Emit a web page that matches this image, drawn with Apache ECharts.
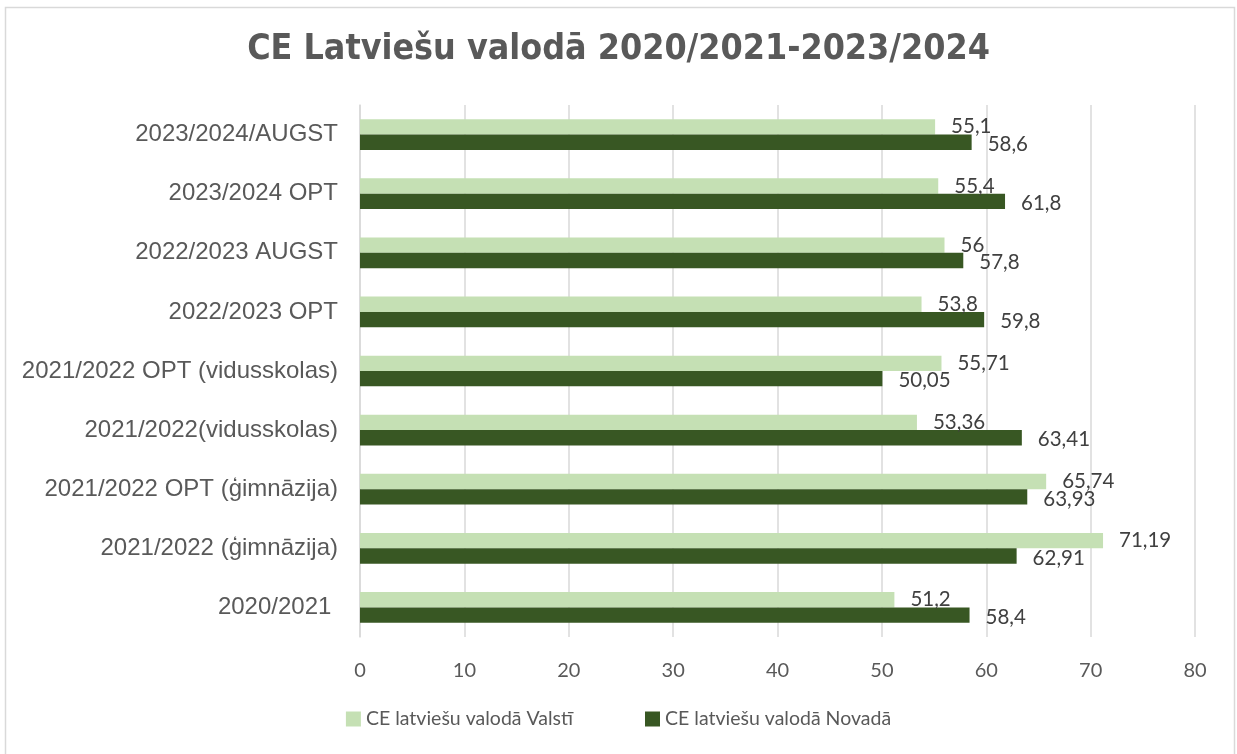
<!DOCTYPE html>
<html>
<head>
<meta charset="utf-8">
<script src="https://cdn.jsdelivr.net/npm/echarts@6/dist/echarts.min.js"></script>
<style>
  html, body { margin: 0; padding: 0; background: #fff; }
  #chart { width: 1237px; height: 754px; }
</style>
</head>
<body>
<div id="chart"></div>
<script>
// kategorijas no augšas uz leju
const categories = [
  '2023/2024/AUGST',
  '2023/2024 OPT',
  '2022/2023 AUGST',
  '2022/2023 OPT',
  '2021/2022 OPT (vidusskolas)',
  '2021/2022(vidusskolas)',
  '2021/2022 OPT (ģimnāzija)',
  '2021/2022 (ģimnāzija)',
  '2020/2021 '
]
const valstiValues = [55.1, 55.4, 56, 53.8, 55.71, 53.36, 65.74, 71.19, 51.2]
const novadaValues = [58.6, 61.8, 57.8, 59.8, 50.05, 63.41, 63.93, 62.91, 58.4]
const seriesNames = ['CE latviešu valodā Valstī', 'CE latviešu valodā Novadā']
const xTicks = [0, 10, 20, 30, 40, 50, 60, 70, 80]

const colors = ['#C5E0B4', '#385723']
const textColor = '#595959'

let chart = echarts.init(document.getElementById('chart'))

const fmt = function (p) {
  return String(p.value).replace('.', ',')
}

const option = {
  animation: false,
  title: {
    text: 'CE Latviešu valodā 2020/2021-2023/2024',
    left: 'center',
    top: 27,
    textStyle: {
      fontFamily: "'DejaVu Sans Condensed', 'DejaVu Sans', sans-serif",
      fontWeight: 'bold',
      fontSize: 35.5,
      color: textColor
    }
  },
  graphic: [
    {
      type: 'rect',
      shape: { x: 5.5, y: 7.5, width: 1229, height: 760 },
      style: { fill: null, stroke: '#d9d9d9', lineWidth: 1.5 },
      silent: true
    }
  ],
  legend: {
    bottom: 20,
    left: 'center',
    itemWidth: 15,
    itemHeight: 15,
    itemGap: 72,
    itemStyle: { borderWidth: 0 },
    icon: 'rect',
    textStyle: { fontFamily: 'Lato', fontSize: 19.5, color: textColor },
    data: seriesNames
  },
  grid: {
    left: 360,
    right: 42,
    top: 105,
    bottom: 117
  },
  xAxis: {
    type: 'value',
    min: xTicks[0],
    max: xTicks[xTicks.length - 1],
    interval: 10,
    axisLine: { show: false },
    axisTick: { show: false },
    splitLine: { lineStyle: { color: '#d9d9d9', width: 1.5 } },
    axisLabel: {
      fontFamily: 'Lato',
      fontSize: 20,
      color: textColor,
      margin: 24
    }
  },
  yAxis: {
    type: 'category',
    inverse: true,
    data: categories,
    axisLine: { lineStyle: { color: '#d9d9d9', width: 1.5 } },
    axisTick: { show: false },
    axisLabel: {
      fontFamily: 'Liberation Sans',
      fontSize: 24,
      color: textColor,
      margin: 22
    }
  },
  series: [
    {
      name: seriesNames[0],
      type: 'bar',
      data: valstiValues,
      barGap: '0%',
      barCategoryGap: '48%',
      itemStyle: { color: colors[0] },
      label: {
        show: true,
        position: 'right',
        distance: 16,
        fontFamily: 'Lato',
        fontSize: 20.5,
        color: '#404040',
        formatter: fmt
      }
    },
    {
      name: seriesNames[1],
      type: 'bar',
      data: novadaValues,
      itemStyle: { color: colors[1] },
      label: {
        show: true,
        position: 'right',
        distance: 16,
        offset: [0, 2],
        fontFamily: 'Lato',
        fontSize: 20.5,
        color: '#404040',
        formatter: fmt
      }
    }
  ]
}

chart.setOption(option, true)
</script>
</body>
</html>
